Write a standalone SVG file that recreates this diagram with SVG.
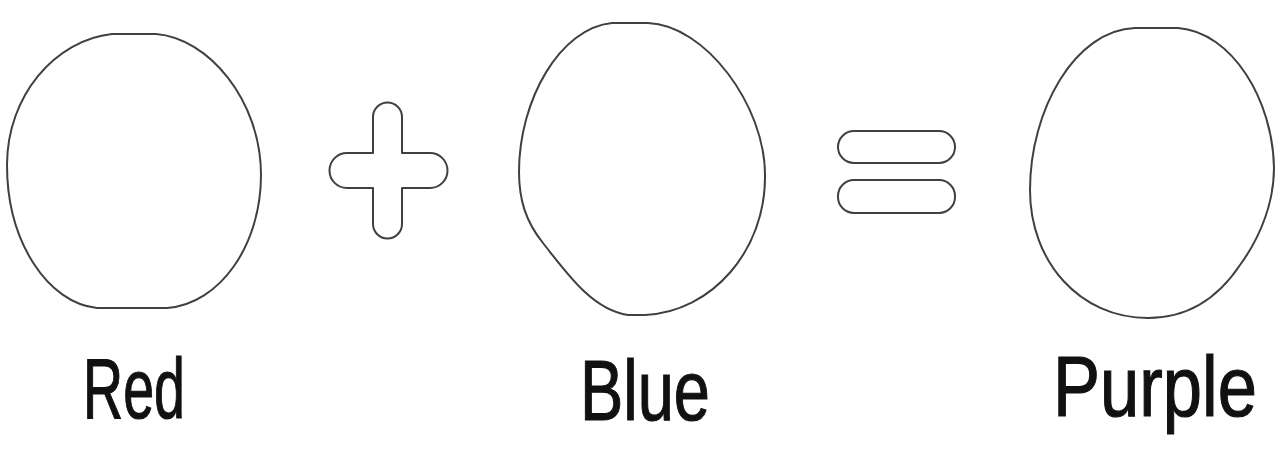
<svg xmlns="http://www.w3.org/2000/svg" width="1282" height="449" viewBox="0 0 1282 449">
<style>
.shape{fill:none;stroke:#404040;stroke-width:2;stroke-linejoin:round}
.lbl{font-family:"Liberation Sans",Arial,sans-serif;font-size:86px;fill:#111;stroke:#111;stroke-width:1.2}
</style>
<rect width="1282" height="449" fill="#ffffff"/>
<g id="red">
<path class="shape" d="M112 34 L156 34 C208 38 261 100 261 175 C261 245 220 304 167 308 L97 308 C48 303 7 242 7 165 C7 96 55 40 112 34 Z"/>
<text class="lbl" x="83" y="418" textLength="102" lengthAdjust="spacingAndGlyphs">Red</text>
</g>
<g id="plus">
<path class="shape" d="M373 153 L373 117 A14.5 14.5 0 0 1 402 117 L402 153 L430 153 A17.5 17.5 0 0 1 430 188 L402 188 L402 224 A14.5 14.5 0 0 1 373 224 L373 188 L347 188 A17.5 17.5 0 0 1 347 153 Z"/>
</g>
<g id="blue">
<path class="shape" d="M612 23 L648 23 C705 25 765 105 765 175 C766 250 712 312 645 315 L628 315 C592 310 566 272 543 243 C526 222 519 200 519 172 C519 100 560 28 612 23 Z"/>
<text class="lbl" x="580" y="420" textLength="130" lengthAdjust="spacingAndGlyphs">Blue</text>
</g>
<g id="equals">
<rect class="shape" x="838" y="131" width="117" height="32" rx="16"/>
<rect class="shape" x="838" y="180" width="117" height="33" rx="16"/>
</g>
<g id="purple">
<path class="shape" d="M1135 28 L1178 28 C1232 32 1273 100 1274 168 C1274 200 1262 235 1240 265 C1220 295 1190 318 1148 318 C1080 318 1030 262 1030 190 C1030 110 1075 30 1135 28 Z"/>
<text class="lbl" x="1053" y="416" textLength="204" lengthAdjust="spacingAndGlyphs">Purple</text>
</g>
<g id="connectors"></g>
</svg>
